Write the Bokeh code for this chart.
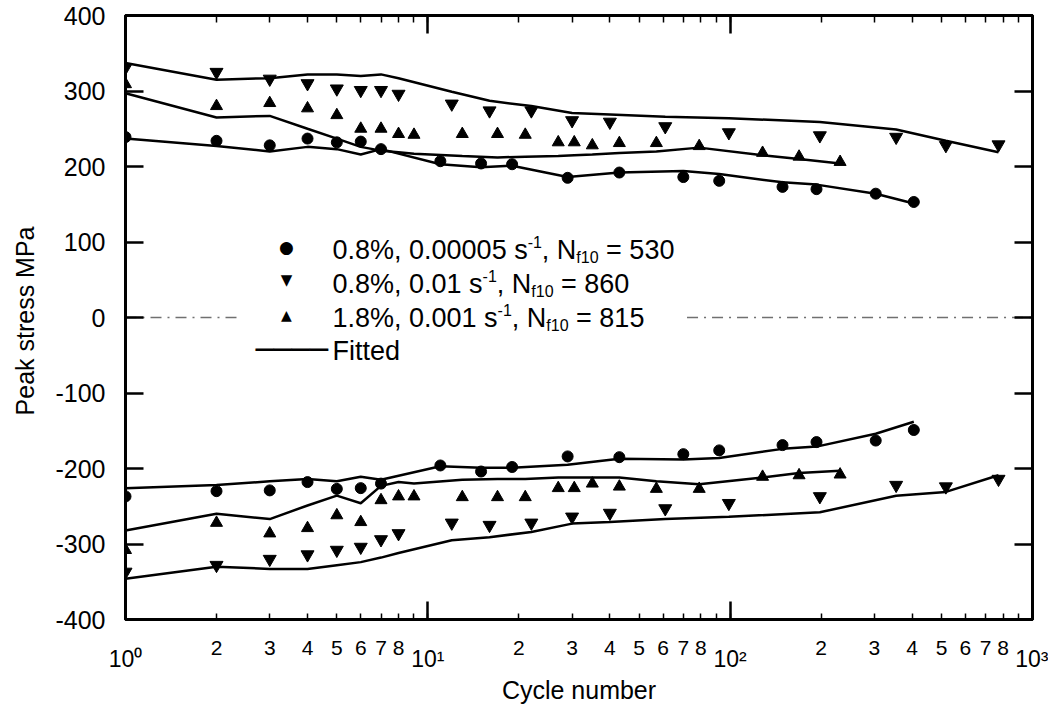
from bokeh.plotting import figure
from bokeh.models import LogAxis, LinearAxis, FixedTicker, Label, Range1d
from bokeh.embed import file_html
from bokeh.resources import INLINE

FONT = "Liberation Sans"

# ---- data: 0.8%, 0.00005 s-1 (circles)
N_A = [1, 2, 3, 4, 5, 6, 7, 11, 15, 19, 29, 43, 70, 92, 149, 193, 303, 405]
TEN_A = [239, 234, 228, 237, 232, 233, 223, 207, 204, 203, 185, 192, 186, 181, 173, 170, 164, 153]
TEN_A_FIT = [237, 227, 220, 226, 223, 216, 223, 203, 199, 201, 186, 192, 194, 190, 179, 176, 164, 151]
COM_A = [-237, -230, -229, -218, -227, -226, -220, -196, -204, -198, -184, -185, -181, -176, -169, -165, -163, -149]
COM_A_FIT = [-226, -222, -217, -214, -217, -211, -215, -197, -199, -199, -195, -187, -188, -186, -174, -171, -154, -138]

# ---- data: 0.8%, 0.01 s-1 (inverted triangles)
N_B = [1, 2, 3, 4, 5, 6, 7, 8, 12, 16, 22, 30, 40, 61, 99, 198, 354, 517, 772]
TEN_B = [331, 325, 316, 310, 303, 301, 301, 296, 283, 274, 274, 261, 259, 253, 245, 241, 239, 228, 229]
TEN_B_FIT = [337, 315, 317, 322, 322, 320, 322, 317, 299, 287, 280, 271, 269, 266, 264, 259, 249, 234, 219]
COM_B = [-337, -328, -320, -314, -308, -304, -294, -286, -272, -275, -272, -264, -259, -253, -246, -237, -222, -224, -214]
COM_B_FIT = [-346, -330, -333, -333, -328, -324, -318, -312, -295, -291, -284, -273, -271, -267, -264, -258, -236, -231, -209]

# ---- data: 1.8%, 0.001 s-1 (triangles)
N_C = [1, 2, 3, 4, 5, 6, 7, 8, 9, 13, 17, 21, 27, 30.5, 35, 43, 57, 79, 128, 169, 231]
TEN_C = [309, 280, 284, 277, 268, 250, 250, 243, 242, 243, 243, 242, 232, 232, 228, 231, 231, 227, 218, 213, 206]
TEN_C_FIT = [297, 265, 267, 250, 237, 226, 221, 219, 217, 214, 212, 213, 214, 215, 216, 218, 220, 225, 215, 210, 204]
COM_C = [-308, -272, -286, -279, -262, -271, -242, -237, -237, -238, -238, -238, -226, -226, -220, -224, -227, -227, -211, -209, -208]
COM_C_FIT = [-282, -260, -267, -249, -236, -246, -223, -218, -220, -215, -214, -214, -212, -212, -212, -212, -217, -221, -212, -206, -203]

# ---- axes / ticks
X_TICKS = [1, 2, 3, 4, 5, 6, 7, 8, 9, 10, 20, 30, 40, 50, 60, 70, 80, 90,
           100, 200, 300, 400, 500, 600, 700, 800, 900, 1000]
X_LABELS = ["", "2", "3", "4", "5", "6", "7", "8", "",
            "", "2", "3", "4", "5", "6", "7", "8", "",
            "", "2", "3", "4", "5", "6", "7", "8", "",
            ""]
X_DECADES = [1, 10, 100, 1000]
X_DECADE_LABELS = ["10\u2070", "10\u00b9", "10\u00b2", "10\u00b3"]
Y_TICKS = [-400, -300, -200, -100, 0, 100, 200, 300, 400]
Y_LABELS = ["-400", "-300", "-200", "-100", "0", "100", "200", "300", "400"]
ZERO_LINE_X0 = [1, 72]
ZERO_LINE_X1 = [2.34, 1000]

LEGEND_ROWS = [
    ("circle", [("0.8%, 0.00005 s", "main"), ("-1", "sup"), (", N", "main"), ("f10", "sub"), (" = 530", "main")]),
    ("itri", [("0.8%, 0.01 s", "main"), ("-1", "sup"), (", N", "main"), ("f10", "sub"), (" = 860", "main")]),
    ("tri", [("1.8%, 0.001 s", "main"), ("-1", "sup"), (", N", "main"), ("f10", "sub"), (" = 815", "main")]),
    ("line", [("Fitted", "main")]),
]

p = figure(width=1048, height=708, x_axis_type="log",
           x_range=Range1d(1, 1000), y_range=Range1d(-400, 400),
           output_backend="svg", toolbar_location=None,
           min_border_left=125, min_border_right=16, min_border_top=15, min_border_bottom=89)
p.grid.visible = False
p.outline_line_color = "black"
p.outline_line_width = 3
p.background_fill_color = "white"
p.border_fill_color = "white"

# zero reference line (dash-dot)
p.segment(x0=ZERO_LINE_X0, y0=[0, 0], x1=ZERO_LINE_X1, y1=[0, 0],
          line_color="#707070", line_width=1.6, line_dash="11 6 2 6")

LW = 2.5
for n, fit in [(N_A, TEN_A_FIT), (N_A, COM_A_FIT), (N_B, TEN_B_FIT), (N_B, COM_B_FIT),
               (N_C, TEN_C_FIT), (N_C, COM_C_FIT)]:
    p.line(n, fit, line_color="black", line_width=LW)

p.scatter(N_A, TEN_A, marker="circle", size=11, color="black")
p.scatter(N_A, COM_A, marker="circle", size=11, color="black")
p.scatter(N_B, TEN_B, marker="inverted_triangle", size=13, color="black")
p.scatter(N_B, COM_B, marker="inverted_triangle", size=13, color="black")
p.scatter(N_C, TEN_C, marker="triangle", size=12, color="black")
p.scatter(N_C, COM_C, marker="triangle", size=12, color="black")

# bottom axis: ticks + digit labels
xa = p.xaxis[0]
xa.ticker = FixedTicker(ticks=X_TICKS, minor_ticks=X_DECADES)
xa.major_label_overrides = {t: s for t, s in zip(X_TICKS, X_LABELS)}
xa.major_tick_in = 6
xa.major_tick_out = 0
xa.minor_tick_in = 18
xa.minor_tick_out = 0
xa.major_tick_line_width = 1.5
xa.minor_tick_line_width = 2.5
xa.axis_line_width = 3
xa.major_label_text_font = FONT
xa.major_label_text_font_size = "21px"
xa.major_label_text_color = "black"
xa.major_label_standoff = 21

# second bottom axis: decade labels 10^k and the axis title
dec = LogAxis(ticker=FixedTicker(ticks=X_DECADES, minor_ticks=[]),
              major_label_overrides={d: s for d, s in zip(X_DECADES, X_DECADE_LABELS)},
              axis_line_color=None, major_tick_line_color=None, minor_tick_line_color=None,
              major_tick_in=0, major_tick_out=0, minor_tick_in=0, minor_tick_out=0,
              major_label_standoff=-12, major_label_text_font=FONT,
              major_label_text_font_size="23px", major_label_text_color="black",
              axis_label="Cycle number", axis_label_text_font=FONT,
              axis_label_text_font_size="25px", axis_label_text_font_style="normal",
              axis_label_text_color="black", axis_label_standoff=1)
p.add_layout(dec, "below")

# left axis
ya = p.yaxis[0]
ya.ticker = FixedTicker(ticks=Y_TICKS, minor_ticks=[])
ya.major_label_overrides = {t: s for t, s in zip(Y_TICKS, Y_LABELS)}
ya.major_tick_in = 18
ya.major_tick_out = 0
ya.minor_tick_in = 0
ya.minor_tick_out = 0
ya.major_tick_line_width = 2.5
ya.axis_line_width = 3
ya.major_label_text_font = FONT
ya.major_label_text_font_size = "25px"
ya.major_label_text_color = "black"
ya.major_label_standoff = 20
ya.axis_label = "Peak stress  MPa"
ya.axis_label_text_font = FONT
ya.axis_label_text_font_size = "25px"
ya.axis_label_text_font_style = "normal"
ya.axis_label_text_color = "black"
ya.axis_label_standoff = 13

# top and right axes (ticks only)
top = LogAxis(ticker=FixedTicker(ticks=X_TICKS, minor_ticks=X_DECADES),
              major_label_overrides={t: "" for t in X_TICKS},
              major_label_text_font_size="0px", major_label_standoff=0,
              major_tick_in=7, major_tick_out=0, minor_tick_in=18, minor_tick_out=0,
              major_tick_line_width=1.5, minor_tick_line_width=2.5, axis_line_width=3)
p.add_layout(top, "above")
right = LinearAxis(ticker=FixedTicker(ticks=Y_TICKS, minor_ticks=[]),
                   major_label_overrides={t: "" for t in Y_TICKS},
                   major_label_text_font_size="0px", major_label_standoff=0,
                   major_tick_in=18, major_tick_out=0, minor_tick_in=0, minor_tick_out=0,
                   major_tick_line_width=2.5, axis_line_width=3)
p.add_layout(right, "right")

# ---- legend (anchored to the frame's top-left corner)
WID = {c: 556 for c in "0123456789"}
WID.update({'.': 278, ',': 278, '%': 889, ' ': 278, 's': 500, 'N': 722, 'f': 278,
            '=': 584, '-': 333, 'F': 611, 'i': 222, 't': 278, 'e': 556, 'd': 556})


def tw(s, size):
    return sum(WID.get(c, 556) for c in s) / 1000.0 * size


SIZES = {"main": 27, "sup": 16, "sub": 16}
DY = {"main": 0, "sup": 8, "sub": -8}
TEXT_X = 207
BASELINES = [234, 268, 302, 335]
MARK_X = 161
SYMBOLS = {"circle": ("\u25cf", "17px", 7), "itri": ("\u25bc", "15px", 6), "tri": ("\u25b2", "14px", 7)}

for (kind, pieces), base in zip(LEGEND_ROWS, BASELINES):
    if kind == "line":
        p.add_layout(Label(x=1, y=400, text="\u2500\u2500\u2500\u2500", text_align="left",
                           text_baseline="alphabetic", x_offset=130, y_offset=-(base - 1),
                           text_font="DejaVu Sans Mono", text_font_size="30px", text_color="black"))
    else:
        sym, fs, up = SYMBOLS[kind]
        p.add_layout(Label(x=1, y=400, text=sym, text_align="center", text_baseline="alphabetic",
                           x_offset=MARK_X, y_offset=-(base - 10 + up), text_font="DejaVu Sans",
                           text_font_size=fs, text_color="black"))
    x = TEXT_X
    for txt, k in pieces:
        size = SIZES[k]
        stripped = txt.lstrip(" ")
        lead = tw(txt[:len(txt) - len(stripped)], size)
        p.add_layout(Label(x=1, y=400, text=stripped, text_align="left", text_baseline="alphabetic",
                           x_offset=x + lead, y_offset=-base + DY[k], text_font=FONT,
                           text_font_size=f"{size}px", text_color="black"))
        x += tw(txt, size)

open("out.html", "w").write(file_html(p, INLINE))
